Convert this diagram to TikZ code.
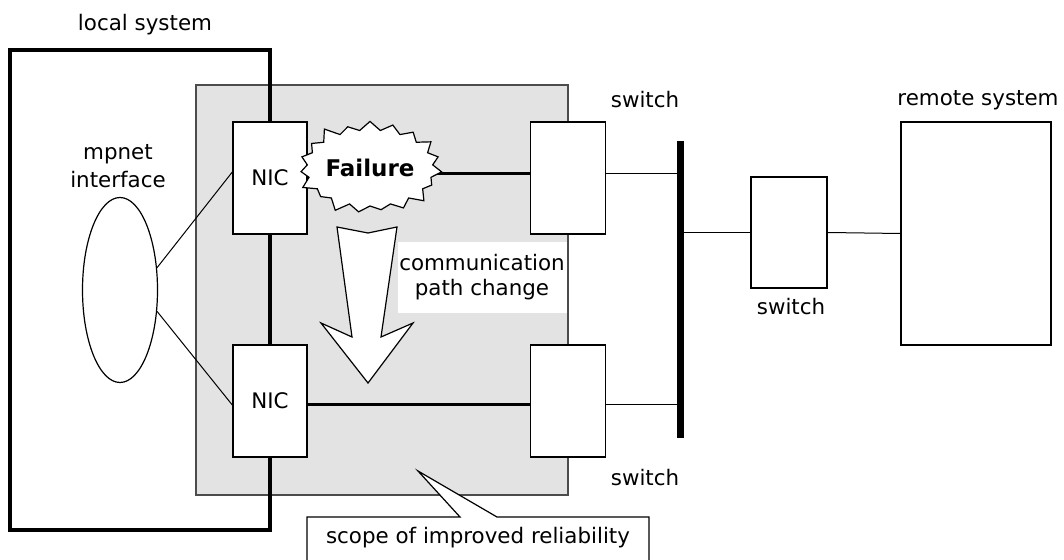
\documentclass[tikz,border=0pt]{standalone}
\usepackage{fontspec}
\setmainfont{DejaVu Sans}
\usetikzlibrary{shapes.geometric,shapes.symbols}

\begin{document}
\begin{tikzpicture}[x=0.5pt, y=-0.5pt,
    font=\fontsize{10.7}{14}\selectfont,
    box/.style={shape=rectangle, draw=black, fill=white, line width=0.7pt, inner sep=0pt},
    nicbox/.style={box, minimum width=37pt, minimum height=56pt},
    swbox/.style={box, minimum width=37.5pt, minimum height=56pt},
    thin link/.style={line width=0.5pt},
    thick link/.style={line width=1.5pt}]
    \useasboundingbox (0,0) rectangle (1064,560);

    % shaded scope and the systems
    \node[shape=rectangle, draw=black!70, fill=black!11, line width=0.6pt, minimum width=186pt, minimum height=205pt] at (382,290) (area) {};
    \node[shape=rectangle, fill=white, inner sep=0pt, align=center, minimum width=84.5pt, minimum height=35.5pt, font=\fontsize{10.7}{12.5}\selectfont] at (482,277.5) (pathlabel) {communication\\path change};
    \node[shape=rectangle, draw=black, line width=2.2pt, minimum width=130pt, minimum height=240pt] at (140,290) (local) {};
    \node at (145,25) (localname) {local system};
    \node[shape=ellipse, draw=black, line width=0.6pt, inner sep=0pt, minimum width=37.5pt, minimum height=92.5pt] at (120,290) (mpnet) {};
    \node[align=center] at (118,166) (mpnetname) {mpnet\\interface};

    \node[nicbox] at (270,178) (nicA) {NIC};
    \node[nicbox] at (270,401) (nicB) {NIC};
    \node[swbox] at (568,178) (swA) {};
    \node[swbox] at (568,401) (swB) {};
    \node[box, minimum width=38pt, minimum height=55.5pt] at (789,232.5) (swC) {};
    \node[box, minimum width=75pt, minimum height=111.5pt] at (976,233.5) (remote) {};

    \node at (645,100) (swAname) {switch};
    \node at (645,478) (swBname) {switch};
    \node at (791,307) (swCname) {switch};
    \node at (978,100) (remotename) {remote system};

    % links
    \draw[thin link] (mpnet.31) -- ([yshift=3pt]nicA.west);
    \draw[thin link] (mpnet.-30) -- ([yshift=-2pt]nicB.west);
    \draw[thick link] ([yshift=2pt]nicA.east) -- ([yshift=2pt]swA.west);
    \draw[thick link] ([yshift=-2pt]nicB.east) -- ([yshift=-2pt]swB.west);

    \coordinate (bustop) at (680,141);
    \coordinate (busbot) at (680,438);
    \draw[line width=3.5pt] (bustop) -- (busbot);
    \draw[thin link] ([yshift=2pt]swA.east) -- ([yshift=2pt]swA.east -| bustop);
    \draw[thin link] ([yshift=-2pt]swB.east) -- ([yshift=-2pt]swB.east -| bustop);
    \draw[thin link] (swC.west -| bustop) -- (swC.west);
    \draw[thin link] (swC.east) -- (remote.west);

    % failure and path change
    \node[shape=starburst, draw=black, fill=white, line width=0.6pt, starburst points=19, starburst point height=6pt, inner sep=0pt, minimum width=56pt, minimum height=50pt, font=\fontsize{11.5}{14}\selectfont\bfseries] at (370,168) (failure) {Failure};
    \draw[fill=white, line width=0.6pt] (337,227) -- (368,233) -- (397,227) -- (381,337) -- (413,323) -- (368,383) -- (321,323) -- (352,337) -- cycle;

    % callout
    \coordinate (scopetip) at (418,471);
    \draw[fill=white, line width=0.6pt] (307,566) -- (307,517) -- (460,517) -- (scopetip) -- (497,517) -- (649,517) -- (649,566);
    \node at (478,538) (scopename) {scope of improved reliability};
\end{tikzpicture}
\end{document}
